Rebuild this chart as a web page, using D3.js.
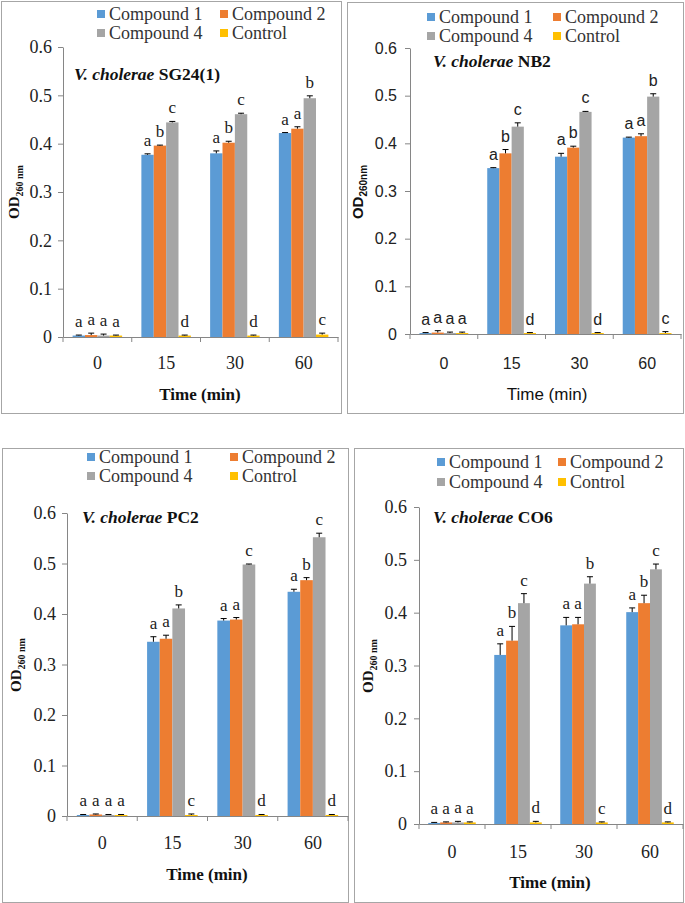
<!DOCTYPE html>
<html><head><meta charset="utf-8">
<script src="https://cdn.jsdelivr.net/npm/d3@7"></script>
<style>body{margin:0;background:#fff} svg{display:block}</style>
</head><body>
<svg id="chart" width="685" height="903"></svg>
<script>
// ---------------- DATA ----------------
const categories = ["0", "15", "30", "60"];
const seriesNames = ["Compound 1", "Compound 2", "Compound 4", "Control"];
const seriesColors = ["#5B9BD5", "#ED7D31", "#A5A5A5", "#FFC000"];
const yTicks = [0, 0.1, 0.2, 0.3, 0.4, 0.5, 0.6];
const yTickLabels = ["0", "0.1", "0.2", "0.3", "0.4", "0.5", "0.6"];

// values[series][category], errors[series][category], letters[category][series]
const sg24Values = [[0.003, 0.377, 0.380, 0.422], [0.004, 0.396, 0.402, 0.431], [0.003, 0.444, 0.461, 0.494], [0.003, 0.003, 0.003, 0.005]];
const sg24Errors = [[0.001, 0.002, 0.005, 0.001], [0.004, 0.001, 0.003, 0.004], [0.003, 0.002, 0.002, 0.005], [0.001, 0.001, 0.001, 0.003]];
const sg24Letters = [["a", "a", "a", "a"], ["a", "b", "c", "d"], ["a", "b", "c", "d"], ["a", "a", "b", "c"]];

const nb2Values = [[0.002, 0.348, 0.372, 0.412], [0.003, 0.379, 0.391, 0.415], [0.002, 0.435, 0.466, 0.498], [0.002, 0.002, 0.002, 0.002]];
const nb2Errors = [[0.001, 0.001, 0.007, 0.001], [0.004, 0.008, 0.003, 0.005], [0.002, 0.008, 0.001, 0.006], [0.002, 0.001, 0.001, 0.003]];
const nb2Letters = [["a", "a", "a", "a"], ["a", "b", "c", "d"], ["a", "b", "c", "d"], ["a", "a", "b", "c"]];

const pc2Values = [[0.002, 0.345, 0.387, 0.444], [0.003, 0.351, 0.389, 0.467], [0.002, 0.411, 0.498, 0.552], [0.002, 0.002, 0.002, 0.002]];
const pc2Errors = [[0.001, 0.010, 0.004, 0.005], [0.001, 0.007, 0.004, 0.005], [0.001, 0.007, 0.001, 0.008], [0.001, 0.002, 0.001, 0.001]];
const pc2Letters = [["a", "a", "a", "a"], ["a", "a", "b", "c"], ["a", "a", "c", "d"], ["a", "b", "c", "d"]];

const co6Values = [[0.002, 0.320, 0.376, 0.401], [0.003, 0.347, 0.378, 0.418], [0.003, 0.418, 0.455, 0.482], [0.003, 0.003, 0.003, 0.003]];
const co6Errors = [[0.001, 0.021, 0.015, 0.008], [0.001, 0.027, 0.013, 0.015], [0.002, 0.018, 0.013, 0.010], [0.001, 0.002, 0.001, 0.001]];
const co6Letters = [["a", "a", "a", "a"], ["a", "b", "c", "d"], ["a", "a", "b", "c"], ["a", "b", "c", "d"]];

// ---------------- LAYOUT ----------------
const SERIF = "Liberation Serif";
const SANS = "Liberation Sans";

const panels = [
  { strain: "SG24(1)", values: sg24Values, errors: sg24Errors, letters: sg24Letters,
    box: [1, 1, 341, 413], x: [63, 338], y: [337, 47], font: SERIF, tickSize: 18, letterSize: 17,
    yPad: 11, xLabelDy: 31, legX: [97, 220], legY: [14, 33], title: [74, 80],
    xlab: [200, 400], xlabBold: true, ylab: [19, 192], ylabSub: "260 nm", ylabFont: SERIF },
  { strain: "NB2", values: nb2Values, errors: nb2Errors, letters: nb2Letters,
    box: [347, 2, 683, 413], x: [410, 681], y: [334, 48], font: SANS, tickSize: 16, letterSize: 16,
    yPad: 13, xLabelDy: 36, legX: [427, 553], legY: [17, 36], title: [433, 67],
    xlab: [547, 400], xlabBold: false, ylab: [363, 192], ylabSub: "260nm", ylabFont: SANS },
  { strain: "PC2", values: pc2Values, errors: pc2Errors, letters: pc2Letters,
    box: [2, 448, 348, 902], x: [67, 348], y: [816, 513], font: SERIF, tickSize: 18, letterSize: 17,
    yPad: 11, xLabelDy: 32, legX: [87, 230], legY: [457, 476], title: [82, 523],
    xlab: [207, 880], xlabBold: true, ylab: [21, 665], ylabSub: "260 nm", ylabFont: SERIF },
  { strain: "CO6", values: co6Values, errors: co6Errors, letters: co6Letters,
    box: [354, 448, 683, 902], x: [419, 683], y: [824, 507], font: SERIF, tickSize: 18, letterSize: 17,
    yPad: 12, xLabelDy: 33, legX: [437, 558], legY: [462, 482], title: [433, 523],
    xlab: [550, 888], xlabBold: true, ylab: [373, 666], ylabSub: "260 nm", ylabFont: SERIF }
];

const svg = d3.select("#chart");
const AXIS = "#868686";
const fontStyle = (fam, size, weight, style) =>
  `font-family:'${fam}';font-size:${size}px;font-weight:${weight || "normal"};font-style:${style || "normal"}`;

panels.forEach(p => {
  const g = svg.append("g");
  g.append("rect").attr("x", p.box[0] + 0.5).attr("y", p.box[1] + 0.5)
    .attr("width", p.box[2] - p.box[0]).attr("height", p.box[3] - p.box[1])
    .attr("fill", "#fff").attr("stroke", "#A6A6A6").attr("stroke-width", 1);

  const x = d3.scaleBand().domain(categories).range(p.x).paddingInner(0).paddingOuter(0);
  const xs = d3.scaleBand().domain(seriesNames)
    .range([x.bandwidth() * 0.14, x.bandwidth() * 0.86]).paddingInner(0);
  const y = d3.scaleLinear().domain([0, 0.6]).range(p.y);

  // y axis
  const ya = g.append("g").attr("transform", `translate(${p.x[0]},0)`)
    .call(d3.axisLeft(y).tickValues(yTicks).tickFormat((d, i) => yTickLabels[i])
      .tickSize(5).tickSizeOuter(0).tickPadding(p.yPad - 5));
  ya.select(".domain").attr("stroke", AXIS);
  ya.selectAll(".tick line").attr("stroke", AXIS);
  ya.selectAll(".tick text").attr("style", fontStyle(p.font, p.tickSize)).attr("fill", "#222");

  // bars, error bars, letters
  seriesNames.forEach((s, si) => {
    categories.forEach((c, ci) => {
      const v = p.values[si][ci];
      const e = p.errors[si][ci];
      const bx = x(c) + xs(s);
      const bw = xs.bandwidth();
      g.append("rect").attr("x", bx).attr("y", y(v)).attr("width", bw)
        .attr("height", y(0) - y(v)).attr("fill", seriesColors[si]);
      const cx = bx + bw / 2;
      const top = y(v + e);
      g.append("line").attr("x1", cx).attr("x2", cx).attr("y1", y(v)).attr("y2", top)
        .attr("stroke", "#000").attr("stroke-width", 1);
      g.append("line").attr("x1", cx - 3).attr("x2", cx + 3).attr("y1", top).attr("y2", top)
        .attr("stroke", "#000").attr("stroke-width", 1);
      g.append("text").attr("x", cx).attr("y", top - 8).attr("text-anchor", "middle")
        .attr("style", fontStyle(p.font, p.letterSize)).attr("fill", "#222")
        .text(p.letters[ci][si]);
    });
  });

  // x axis
  const xa = g.append("g").attr("transform", `translate(0,${y(0)})`)
    .call(d3.axisBottom(x).tickSize(0).tickSizeOuter(0).tickPadding(p.xLabelDy - 12));
  xa.select(".domain").attr("stroke", AXIS);
  xa.selectAll(".tick text").attr("style", fontStyle(p.font, p.tickSize)).attr("fill", "#222");
  const bounds = categories.map(c => x(c)).concat([x(categories[categories.length - 1]) + x.bandwidth()]);
  g.selectAll(null).data(bounds).enter().append("line")
    .attr("x1", d => d).attr("x2", d => d).attr("y1", y(0)).attr("y2", y(0) + 5)
    .attr("stroke", AXIS);

  // legend
  seriesNames.forEach((s, si) => {
    const col = si % 2, row = Math.floor(si / 2);
    const lx = p.legX[col], ly = p.legY[row];
    g.append("rect").attr("x", lx).attr("y", ly - 4).attr("width", 8).attr("height", 8).attr("fill", seriesColors[si]);
    g.append("text").attr("x", lx + 12).attr("y", ly + 6).attr("style", fontStyle(SERIF, 18))
      .attr("fill", "#333").text(s);
  });

  // title
  const t = g.append("text").attr("x", p.title[0]).attr("y", p.title[1])
    .attr("style", fontStyle(SERIF, 17.5, "bold")).attr("fill", "#111");
  t.append("tspan").attr("style", "font-style:italic").text("V. cholerae");
  t.append("tspan").text(" " + p.strain);

  // x label
  g.append("text").attr("x", p.xlab[0]).attr("y", p.xlab[1]).attr("text-anchor", "middle")
    .attr("style", fontStyle(p.font, 17, p.xlabBold ? "bold" : "normal")).attr("fill", "#111").text("Time (min)");

  // y label
  const yl = g.append("text").attr("transform", `translate(${p.ylab[0]},${p.ylab[1]}) rotate(-90)`)
    .attr("text-anchor", "middle").attr("style", fontStyle(p.ylabFont, 15, "bold")).attr("fill", "#111");
  yl.append("tspan").text("OD");
  yl.append("tspan").attr("style", "font-size:10px").attr("dy", 4).text(p.ylabSub);
});
</script>
</body></html>
